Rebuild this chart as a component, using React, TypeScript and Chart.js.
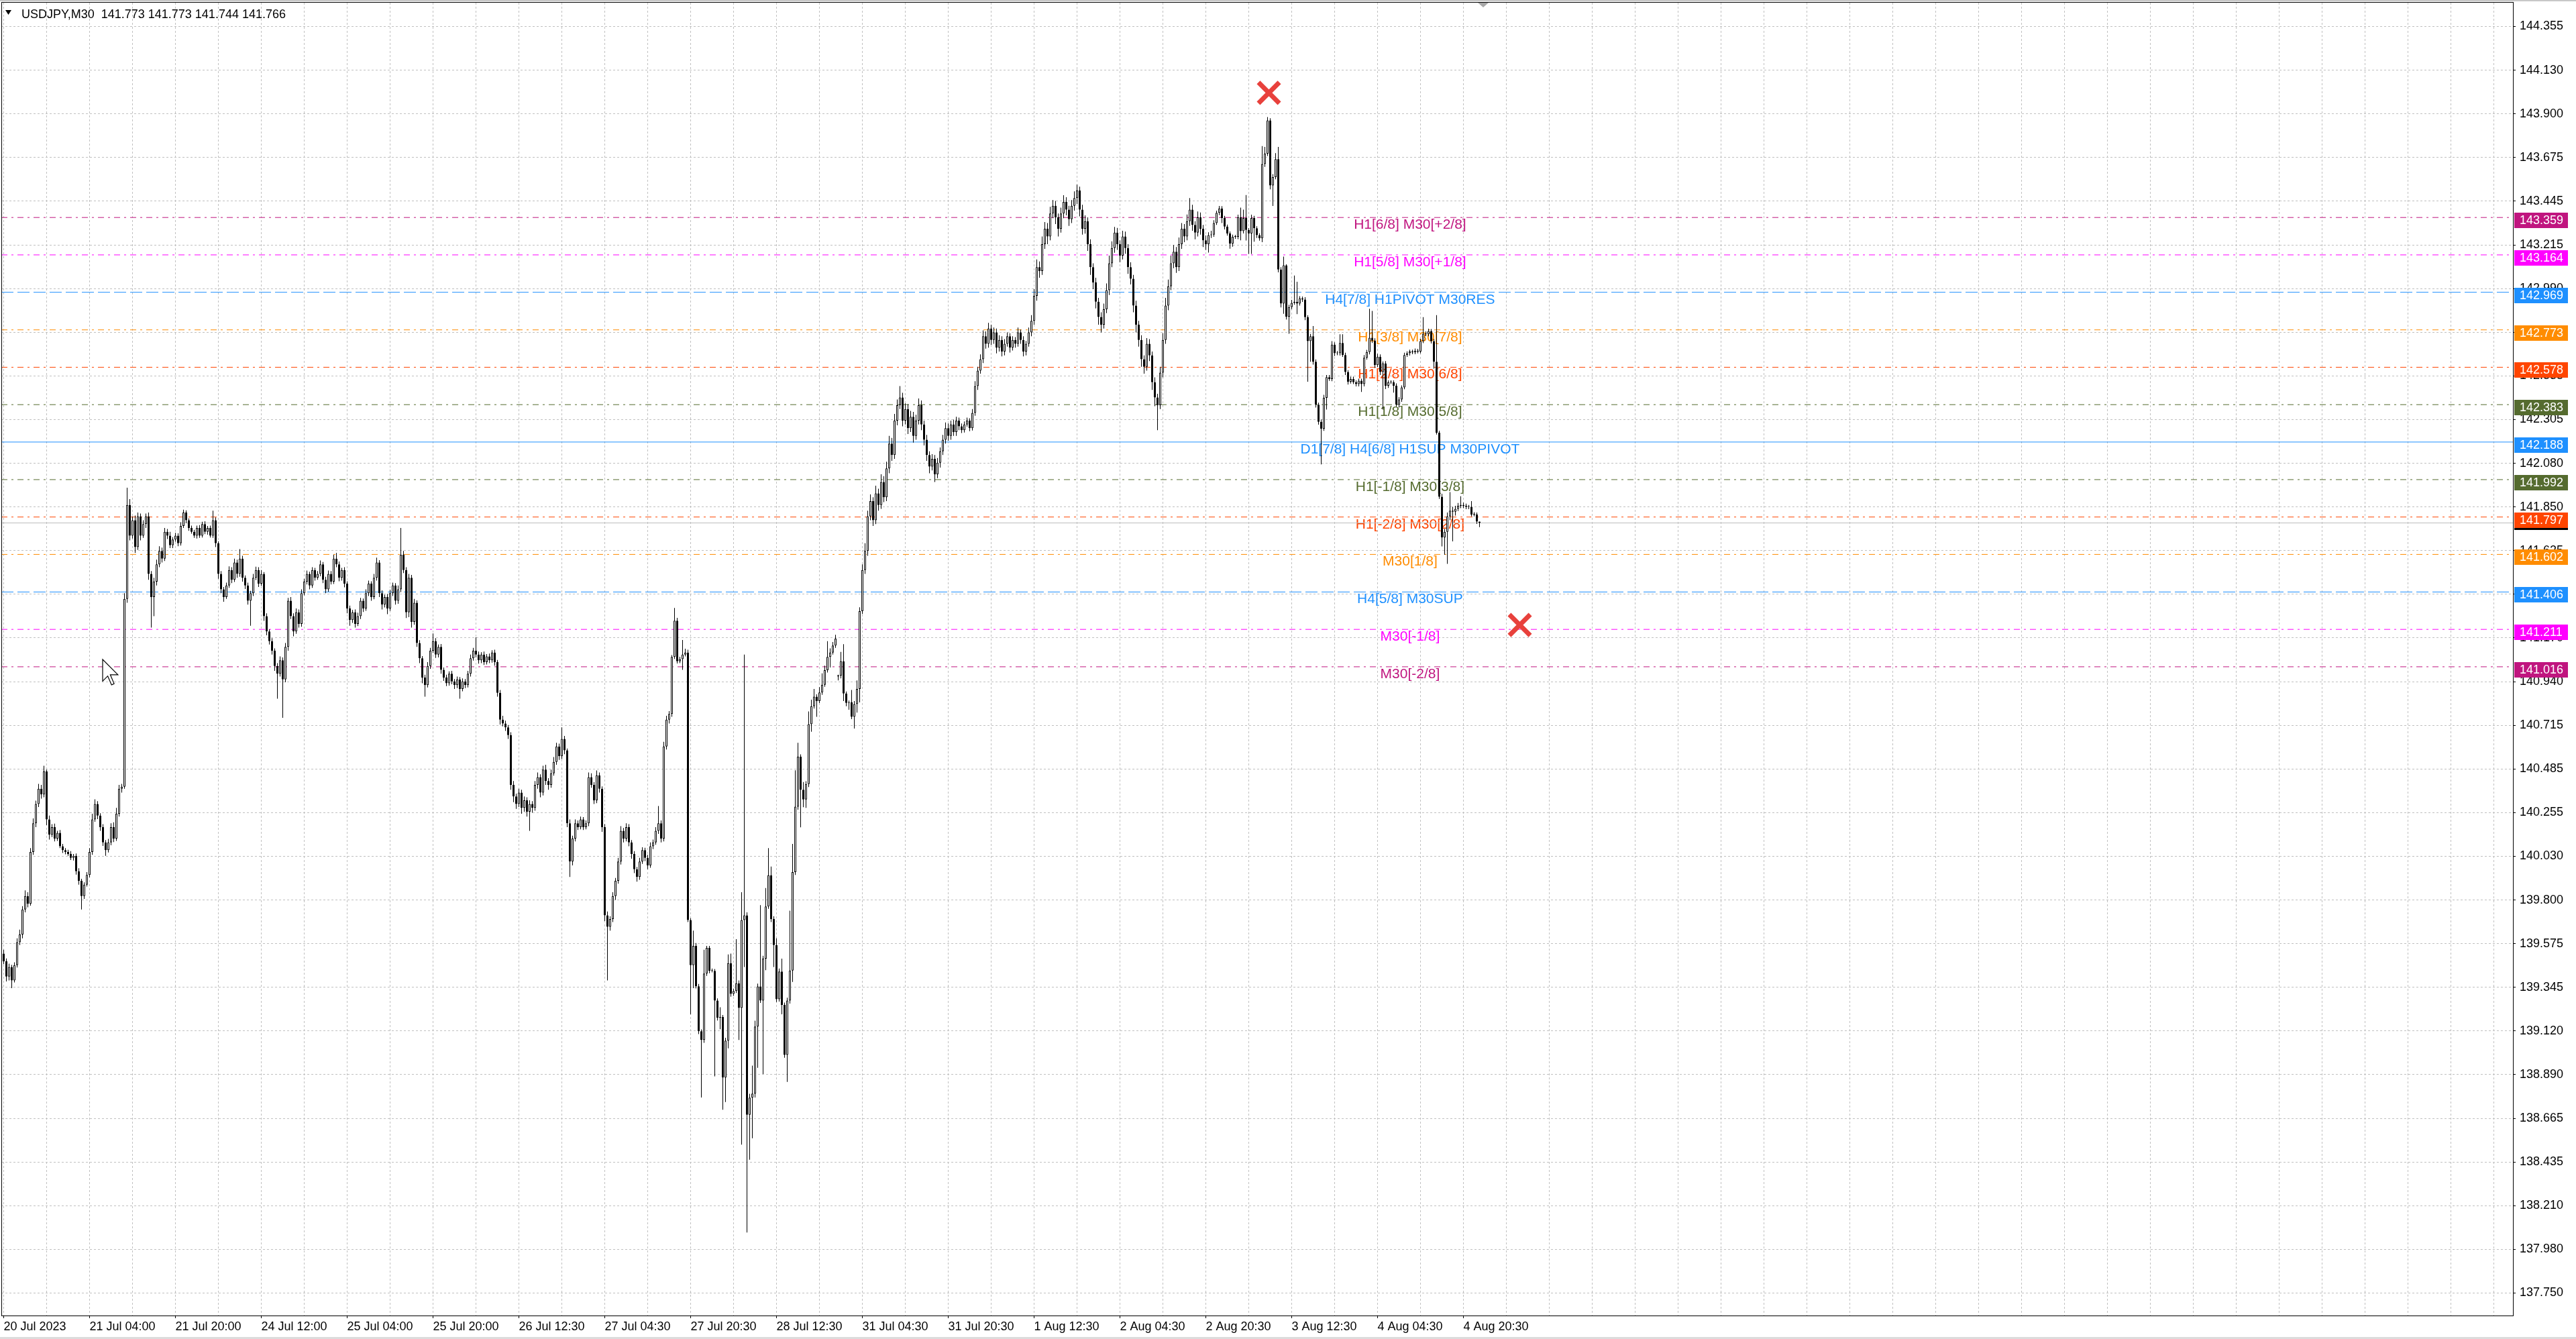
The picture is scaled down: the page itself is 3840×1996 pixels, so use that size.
import { useEffect, useRef } from "react";
import { Chart, registerables } from "chart.js";

Chart.register(...registerables);

const FONT = '"Liberation Sans", Arial, sans-serif';

// ---- M30 candles: [close, upper wick (points), lower wick (points)], open = previous close ----
const FIRST_OPEN = 139.52;

const jul20 = [
  [139.48,20,15],[139.40,15,25],[139.45,18,20],[139.38,12,40],[139.46,15,10],[139.58,20,12],[139.62,25,15],[139.75,18,20],
  [139.82,30,15],[139.78,20,18],[140.05,20,10],[140.20,25,15],[140.30,18,20],[140.38,25,15],[140.35,20,22],[140.47,30,15],
  [140.22,10,30],[140.14,20,25],[140.18,15,12],[140.12,18,15],[140.15,10,12],[140.08,15,10],[140.06,12,15],[140.05,10,12],
];
const jul21 = [
  [140.04,12,10],[140.02,15,12],[140.03,10,14],[139.95,12,18],[139.90,15,20],[139.82,10,70],[139.88,12,15],[139.93,15,10],
  [140.05,20,12],[140.22,30,15],[140.30,25,12],[140.24,15,18],[140.18,12,20],[140.10,15,18],[140.06,12,30],[140.10,18,12],
  [140.18,20,15],[140.12,25,18],[140.25,30,12],[140.38,20,15],[140.39,15,20],[141.37,30,10],[141.86,90,20],[141.70,30,25],
  [141.78,20,15],[141.64,25,30],[141.80,20,15],[141.70,15,25],[141.76,20,12],[141.80,15,20],[141.50,20,30],[141.38,15,160],
  [141.46,20,100],[141.55,25,20],[141.62,25,15],[141.58,18,20],[141.72,20,12],[141.70,15,18],[141.65,20,15],[141.68,12,15],
  [141.70,15,12],[141.66,12,15],[141.75,20,12],[141.82,15,10],[141.78,12,15],[141.74,10,15],[141.72,12,10],[141.70,10,12],
];
const jul24 = [
  [141.74,12,15],[141.70,15,12],[141.76,12,10],[141.72,15,12],[141.74,10,15],[141.70,12,10],[141.78,50,12],[141.66,15,20],
  [141.50,10,25],[141.42,15,20],[141.38,12,25],[141.44,15,10],[141.52,20,12],[141.47,15,18],[141.56,20,12],[141.50,15,20],
  [141.58,50,15],[141.48,15,20],[141.44,12,18],[141.36,15,20],[141.40,12,130],[141.48,20,15],[141.52,18,12],[141.45,15,18],
  [141.50,20,12],[141.28,10,25],[141.20,15,20],[141.15,12,18],[141.10,15,20],[141.02,12,25],[140.98,15,130],[141.05,20,15],
  [140.95,15,200],[141.12,20,15],[141.36,15,20],[141.28,20,15],[141.20,15,25],[141.30,20,12],[141.24,15,20],[141.40,20,15],
  [141.46,15,12],[141.50,18,15],[141.44,12,20],[141.52,15,12],[141.48,12,15],[141.50,15,10],[141.55,20,12],[141.47,12,18],
];
const jul25 = [
  [141.42,15,20],[141.50,18,12],[141.46,15,15],[141.58,20,12],[141.55,30,15],[141.48,15,18],[141.52,12,15],[141.45,15,20],
  [141.32,12,25],[141.26,15,30],[141.30,12,15],[141.24,15,20],[141.28,18,12],[141.36,15,15],[141.32,12,18],[141.40,20,12],
  [141.45,15,15],[141.38,12,20],[141.48,20,12],[141.56,25,15],[141.40,12,20],[141.34,15,25],[141.38,12,15],[141.32,15,30],
  [141.40,18,12],[141.44,15,15],[141.36,12,20],[141.42,20,15],[141.60,140,15],[141.52,20,15],[141.30,15,30],[141.48,20,25],
  [141.25,15,30],[141.35,20,15],[141.14,12,20],[141.06,15,25],[140.96,12,30],[140.92,15,60],[141.02,20,12],[141.10,15,15],
  [141.15,40,12],[141.08,15,18],[141.12,12,15],[141.00,15,20],[140.96,12,18],[140.93,15,15],[140.98,12,12],[140.94,15,15],
];
const jul26 = [
  [140.92,12,20],[140.95,15,15],[140.90,12,50],[140.94,15,12],[140.92,12,15],[140.98,15,12],[141.06,20,15],[141.10,15,12],
  [141.08,70,15],[141.05,15,18],[141.08,12,15],[141.04,15,15],[141.07,12,12],[141.05,15,15],[141.09,12,12],[141.04,15,18],
  [140.88,12,20],[140.74,15,25],[140.72,20,15],[140.70,15,18],[140.66,12,20],[140.40,15,25],[140.34,20,30],[140.30,15,25],
  [140.36,20,15],[140.28,15,30],[140.32,20,20],[140.26,15,25],[140.30,20,100],[140.28,15,25],[140.40,20,15],[140.44,25,20],
  [140.36,15,25],[140.48,20,15],[140.42,25,20],[140.40,15,25],[140.46,20,15],[140.52,25,12],[140.60,20,15],[140.55,15,20],
  [140.64,60,15],[140.58,15,20],[140.20,10,20],[140.00,20,80],[140.12,15,20],[140.20,20,15],[140.18,15,15],
];
const jul27 = [
  [140.22,15,12],[140.18,12,15],[140.20,15,12],[140.44,25,15],[140.40,20,15],[140.32,15,20],[140.45,25,15],[140.38,15,20],
  [140.18,12,25],[139.72,15,30],[139.66,20,280],[139.70,15,20],[139.82,20,15],[139.90,15,20],[140.00,20,15],[140.16,25,15],
  [140.12,15,20],[140.18,20,15],[140.10,15,20],[140.04,12,25],[139.96,15,20],[139.92,12,25],[140.00,20,15],[140.06,15,12],
  [140.02,12,18],[139.98,15,20],[140.08,20,12],[140.10,15,15],[140.16,20,12],[140.20,90,15],[140.12,15,20],[140.60,25,15],
  [140.74,20,15],[140.77,15,20],[141.067,10,15],[141.256,67,10],[141.045,15,12],[141.056,12,10],[141.08,76,56],[141.09,20,10],
  [139.695,15,10],[139.46,10,256],[139.56,80,120],[139.35,15,12],[139.115,12,15],[139.07,10,300],[139.416,124,15],[139.55,10,12],
];
const jul28 = [
  [139.43,10,12],[139.43,12,8],[139.275,10,395],[139.186,12,15],[139.19,50,60],[138.874,10,168],[139.066,15,128],[139.47,46,40],
  [139.31,50,15],[139.325,12,10],[139.365,230,10],[139.237,15,167],[139.695,145,713],[139.72,1360,245],[138.68,15,614],[138.769,20,235],
  [138.79,146,212],[139.14,30,20],[139.349,15,215],[139.275,424,12],[139.494,15,383],[139.766,96,60],[139.929,141,12],[139.70,45,15],
  [139.565,15,115],[139.282,35,15],[139.427,15,12],[139.253,67,49],[138.992,12,15],[139.275,15,141],[139.432,312,15],[139.945,147,60],
  [140.286,190,15],[140.547,73,15],[140.375,12,196],[140.324,40,40],[140.404,15,44],[140.717,66,15],[140.81,34,40],[140.86,40,12],
  [140.837,12,82],[140.882,28,10],[140.922,60,12],[140.998,24,10],[141.067,83,12],[141.09,22,55],[141.127,18,10],[141.163,20,12],
];
const jul31 = [
  [140.97,5,21],[141.045,49,15],[140.877,89,40],[140.828,10,18],[140.83,10,36],[140.755,65,12],[140.822,15,61],[140.90,45,45],
  [141.306,20,70],[141.52,30,15],[141.62,40,20],[141.80,30,25],[141.88,35,20],[141.78,20,30],[141.92,40,20],[141.86,25,30],
  [141.98,40,20],[141.90,30,25],[142.05,35,20],[142.18,40,25],[142.12,30,30],[142.30,35,20],[142.38,30,25],[142.42,60,20],
  [142.30,25,30],[142.36,30,20],[142.26,25,30],[142.32,30,20],[142.22,25,35],[142.30,30,20],[142.38,35,20],[142.28,25,30],
  [142.20,20,30],[142.12,25,30],[142.06,20,35],[142.10,25,20],[142.02,20,40],[142.08,25,20],[142.14,20,25],[142.20,25,20],
  [142.26,30,20],[142.22,25,25],[142.28,20,20],[142.24,25,20],[142.30,20,20],[142.27,15,20],[142.25,15,15],[142.28,15,12],
];
const aug01 = [
  [142.30,15,12],[142.26,12,15],[142.34,20,12],[142.48,25,15],[142.56,20,20],[142.62,25,15],[142.74,30,20],[142.70,25,25],
  [142.78,30,20],[142.72,20,25],[142.76,25,20],[142.68,20,30],[142.72,25,20],[142.66,20,25],[142.70,25,20],[142.74,20,15],
  [142.68,15,25],[142.72,20,15],[142.70,15,20],[142.76,25,15],[142.72,15,20],[142.66,20,25],[142.70,15,20],[142.76,25,15],
  [142.82,30,20],[142.95,35,20],[143.10,40,25],[143.08,30,35],[143.22,40,20],[143.30,35,25],[143.26,30,40],[143.38,35,20],
  [143.42,30,25],[143.36,25,35],[143.30,20,40],[143.38,30,20],[143.44,35,25],[143.40,25,30],[143.35,20,35],[143.42,30,20],
  [143.46,35,25],[143.50,30,30],[143.40,20,35],[143.30,25,30],[143.34,30,25],[143.22,20,35],[143.10,25,40],[143.02,20,35],
];
const aug02 = [
  [142.92,25,35],[142.84,20,40],[142.80,25,40],[142.88,30,20],[142.98,35,20],[143.12,40,25],[143.20,35,20],[143.28,30,25],
  [143.22,25,30],[143.16,20,35],[143.26,30,20],[143.20,25,30],[143.10,20,35],[143.04,25,30],[142.90,20,35],[142.80,25,40],
  [142.72,20,35],[142.62,25,40],[142.58,20,35],[142.70,30,20],[142.64,25,30],[142.50,20,40],[142.42,25,45],[142.38,20,130],
  [142.55,30,20],[142.72,35,25],[142.90,40,20],[143.00,35,25],[143.12,40,20],[143.18,35,25],[143.10,25,30],[143.22,35,20],
  [143.30,30,25],[143.26,25,30],[143.34,35,20],[143.40,60,25],[143.32,25,30],[143.28,20,35],[143.36,30,20],[143.30,25,30],
  [143.24,20,35],[143.22,25,30],[143.267,15,44],[143.27,20,15],[143.33,15,12],[143.383,12,10],[143.406,13,12],[143.356,12,26],
];
const aug03 = [
  [143.312,12,15],[143.276,10,12],[143.222,10,26],[143.258,12,15],[143.258,10,10],[143.36,14,12],[143.288,50,48],[143.356,44,12],
  [143.294,120,55],[143.276,10,107],[143.356,18,107],[143.303,12,70],[143.267,10,15],[143.25,10,12],[143.638,93,20],[143.692,35,15],
  [143.865,18,12],[143.526,12,20],[143.57,15,107],[143.663,32,12],[143.088,64,15],[142.91,12,20],[143.11,45,53],[142.842,5,15],
  [142.892,12,89],[142.914,15,12],[142.919,137,10],[142.91,105,55],[142.937,12,10],[142.931,10,12],[142.839,12,15],[142.714,10,211],
  [142.74,12,107],[142.607,53,15],[142.383,12,15],[142.294,10,15],[142.258,12,187],[142.419,15,12],[142.526,12,62],[142.517,12,10],
  [142.696,18,12],[142.651,12,15],[142.651,12,10],[142.705,45,12],[142.642,45,10],[142.553,12,15],[142.503,10,15],[142.517,12,10],
];
const aug04 = [
  [142.50,12,10],[142.49,10,12],[142.508,10,12],[142.49,10,41],[142.628,14,12],[142.657,12,10],[142.732,151,12],[142.717,140,12],
  [142.589,12,15],[142.633,15,10],[142.553,12,15],[142.598,10,196],[142.482,12,18],[142.50,10,12],[142.50,10,10],[142.482,10,36],
  [142.383,12,10],[142.41,12,15],[142.473,10,12],[142.642,12,10],[142.651,10,10],[142.66,10,12],[142.656,10,10],[142.664,12,10],
  [142.66,10,10],[142.714,12,10],[142.753,86,10],[142.75,12,10],[142.767,12,10],[142.714,10,12],[142.607,12,36],[142.237,243,10],
  [141.903,10,12],[141.69,15,46],[141.72,15,90],[141.80,20,167],[141.83,97,20],[141.825,20,155],[141.84,15,20],[141.855,15,12],
  [141.86,45,12],[141.855,12,12],[141.85,12,12],[141.85,10,12],[141.81,30,10],[141.81,12,10],[141.773,10,12],[141.766,0,22],
];
// week-open gaps: [bar index, open]
const GAP_OPENS = [[311, 140.966]];

// ---- axes ----
const TIME_LABELS = [
  "20 Jul 2023", "21 Jul 04:00", "21 Jul 20:00", "24 Jul 12:00", "25 Jul 04:00", "25 Jul 20:00",
  "26 Jul 12:30", "27 Jul 04:30", "27 Jul 20:30", "28 Jul 12:30", "31 Jul 04:30", "31 Jul 20:30",
  "1 Aug 12:30", "2 Aug 04:30", "2 Aug 20:30", "3 Aug 12:30", "4 Aug 04:30", "4 Aug 20:30",
];
const PRICE_LABELS = [
  "144.355", "144.130", "143.900", "143.675", "143.445", "143.215", "142.990", "142.760", "142.535", "142.305",
  "142.080", "141.850", "141.625", "141.395", "141.170", "140.940", "140.715", "140.485", "140.255", "140.030",
  "139.800", "139.575", "139.345", "139.120", "138.890", "138.665", "138.435", "138.210", "137.980", "137.750",
];

// ---- Murrey math levels ----
const LEVEL_PRICES = [143.359, 143.164, 142.969, 142.773, 142.578, 142.383, 142.188, 141.992, 141.797, 141.602, 141.406, 141.211, 141.016];
const LEVEL_NAMES = [
  "H1[6/8] M30[+2/8]", "H1[5/8] M30[+1/8]", "H4[7/8] H1PIVOT M30RES", "H1[3/8] M30[7/8]", "H1[2/8] M30[6/8]",
  "H1[1/8] M30[5/8]", "D1[7/8] H4[6/8] H1SUP M30PIVOT", "H1[-1/8] M30[3/8]", "H1[-2/8] M30[2/8]", "M30[1/8]",
  "H4[5/8] M30SUP", "M30[-1/8]", "M30[-2/8]",
];
const LEVEL_COLORS = ["#C0157F", "#FF00FF", "#1E90FF", "#FF8C00", "#FF4500", "#556B2F", "#1E90FF", "#556B2F", "#FF4500", "#FF8C00", "#1E90FF", "#FF00FF", "#C0157F"];
const LEVEL_STYLES = ["dashdot", "dashdot", "dash", "dashdot", "dashdot", "dashdot", "solid", "dashdot", "dashdot", "dashdot", "dash", "dashdot", "dashdot"];

const BID = 141.766;
const SIGNAL_BARS = [471.5, 565];
const SIGNAL_PRICES = [144.009, 141.234];
const HEADER = "USDJPY,M30  141.773 141.773 141.744 141.766";

const X_MIN = -0.875;
const X_MAX = 935.125;
const Y_MAX = 144.4792;
const Y_MIN = 137.6328;
const LEVEL_LABEL_BAR = 524.1;
const DASHES: Record<string, number[]> = { solid: [], dash: [18, 6], dashdot: [9, 6, 3, 6] };

function buildBars() {
  const days = [jul20, jul21, jul24, jul25, jul26, jul27, jul28, jul31, aug01, aug02, aug03, aug04];
  const out: { o: number; h: number; l: number; c: number }[] = [];
  let prev = FIRST_OPEN;
  for (const day of days) {
    for (const [c, up, dn] of day) {
      const g = GAP_OPENS.find((e) => e[0] === out.length);
      const o = g ? g[1] : prev;
      out.push({ o, c, h: Math.max(o, c) + up / 1000, l: Math.min(o, c) - dn / 1000 });
      prev = c;
    }
  }
  return out;
}

export default function App() {
  const canvasRef = useRef<HTMLCanvasElement | null>(null);

  useEffect(() => {
    const canvas = canvasRef.current;
    if (!canvas) return;
    Chart.defaults.font.family = FONT;
    const bars = buildBars();
    const wickData = bars.map((b, i) => ({ x: i, y: [b.l, b.h] }));
    const bodyData = bars.map((b, i) => ({ x: i, y: [Math.min(b.o, b.c), Math.max(b.o, b.c)] }));
    const bodyFill = bars.map((b) => (b.c > b.o ? "#ffffff" : "#000000"));

    const nT = PRICE_LABELS.length;
    const pFirst = parseFloat(PRICE_LABELS[0]);
    const pLast = parseFloat(PRICE_LABELS[nT - 1]);
    const tickVals = PRICE_LABELS.map((_, k) => pFirst + ((pLast - pFirst) * k) / (nT - 1));
    const gridBars: number[] = [];
    for (let v = 0; v <= X_MAX; v += 16) gridBars.push(v);
    const timeLabelAt = (v: number) => {
      const k = v / 32;
      return Number.isInteger(k) && k < TIME_LABELS.length ? TIME_LABELS[k] : "";
    };

    const levelSets = LEVEL_PRICES.map((p, k) => ({
      type: "line" as const,
      data: [{ x: X_MIN, y: p }, { x: X_MAX, y: p }],
      borderColor: LEVEL_COLORS[k],
      borderWidth: 1,
      borderDash: DASHES[LEVEL_STYLES[k]],
      pointRadius: 0,
      tension: 0,
      order: 6,
    }));

    const overlay = {
      id: "mt4Overlay",
      beforeDatasetsDraw(chart: any) {
        const { ctx, scales } = chart;
        const cx = scales.x.getPixelForValue(LEVEL_LABEL_BAR);
        ctx.save();
        ctx.font = `21px ${FONT}`;
        ctx.textAlign = "center";
        ctx.textBaseline = "alphabetic";
        LEVEL_PRICES.forEach((p, k) => {
          const py = Math.round(scales.y.getPixelForValue(p));
          ctx.fillStyle = LEVEL_COLORS[k];
          ctx.fillText(LEVEL_NAMES[k], cx, py + 17);
        });
        ctx.restore();
      },
      afterDraw(chart: any) {
        const { ctx, scales, chartArea } = chart;
        const W = chart.width;
        ctx.save();
        ctx.fillStyle = "#C8C8C8";
        ctx.fillRect(0, 0, W, 2);
        ctx.fillStyle = "#DCDCDC";
        ctx.fillRect(0, 1993, W, 3);
        ctx.fillStyle = "#000";
        ctx.fillRect(2, 3, 1, chartArea.bottom - 3);
        ctx.fillRect(2, 3, chartArea.right - 2, 1);
        ctx.fillRect(chartArea.right, 3, 1, chartArea.bottom - 2);
        ctx.fillRect(2, chartArea.bottom, chartArea.right - 1, 1);
        ctx.fillStyle = "#A8A8A8";
        ctx.beginPath();
        ctx.moveTo(2203, 4);
        ctx.lineTo(2219, 4);
        ctx.lineTo(2211, 11);
        ctx.closePath();
        ctx.fill();
        const tagX = chartArea.right + 2;
        const by = Math.round(scales.y.getPixelForValue(BID));
        ctx.fillStyle = "#000";
        ctx.fillRect(tagX, by - 13, 80, 23);
        ctx.font = `18px ${FONT}`;
        ctx.textBaseline = "middle";
        ctx.textAlign = "left";
        LEVEL_PRICES.forEach((p, k) => {
          const py = Math.round(scales.y.getPixelForValue(p));
          ctx.fillStyle = LEVEL_COLORS[k];
          ctx.fillRect(tagX, py - 7, 80, 23);
          ctx.fillStyle = "#fff";
          ctx.fillText(p.toFixed(3), chartArea.right + 10, py + 5);
        });
        ctx.fillStyle = "#000";
        ctx.beginPath();
        ctx.moveTo(8, 15);
        ctx.lineTo(17, 15);
        ctx.lineTo(12.5, 22);
        ctx.closePath();
        ctx.fill();
        ctx.font = `18px ${FONT}`;
        ctx.textBaseline = "alphabetic";
        ctx.fillText(HEADER, 32, 27);
        const cur = [[0, 0], [0, 17], [4, 13], [7, 20], [9, 19], [6, 12], [12, 12]];
        ctx.beginPath();
        cur.forEach(([a, b], i) => {
          const px = 153 + a * 1.9;
          const py = 983 + b * 1.9;
          if (i === 0) ctx.moveTo(px, py);
          else ctx.lineTo(px, py);
        });
        ctx.closePath();
        ctx.fillStyle = "#fff";
        ctx.fill();
        ctx.strokeStyle = "#000";
        ctx.lineWidth = 1.2;
        ctx.stroke();
        ctx.restore();
      },
    };

    const chart = new Chart(canvas, {
      type: "bar",
      data: {
        datasets: [
          {
            type: "line",
            data: SIGNAL_BARS.map((b, k) => ({ x: b, y: SIGNAL_PRICES[k] })),
            showLine: false,
            pointStyle: "crossRot",
            pointRadius: 22,
            pointHoverRadius: 22,
            pointBorderWidth: 7,
            pointBorderColor: "#E8413C",
            pointBackgroundColor: "#E8413C",
            order: 0,
          } as any,
          {
            type: "bar",
            data: bodyData as any,
            backgroundColor: bodyFill,
            borderColor: "#000",
            borderWidth: 1,
            barThickness: 3,
            grouped: false,
            borderSkipped: false,
            inflateAmount: 0,
            minBarLength: 1,
            order: 1,
          } as any,
          {
            type: "bar",
            data: wickData as any,
            backgroundColor: "#000",
            borderWidth: 0,
            barThickness: 1,
            grouped: false,
            borderSkipped: false,
            inflateAmount: 0,
            minBarLength: 1,
            order: 2,
          } as any,
          {
            type: "line",
            data: [{ x: X_MIN, y: BID }, { x: X_MAX, y: BID }],
            borderColor: "#BDBDBD",
            borderWidth: 1,
            pointRadius: 0,
            order: 5,
          } as any,
          ...(levelSets as any[]),
        ],
      },
      options: {
        responsive: false,
        animation: false,
        events: [],
        layout: { autoPadding: false, padding: { left: 2, top: 4, right: 0, bottom: 0 } },
        plugins: { legend: { display: false }, tooltip: { enabled: false } },
        scales: {
          x: {
            type: "linear",
            min: X_MIN,
            max: X_MAX,
            offset: false,
            afterFit: (s: any) => { s.height = 35; s.paddingLeft = 0; s.paddingRight = 0; },
            afterBuildTicks: (s: any) => { s.ticks = gridBars.map((v) => ({ value: v })); },
            ticks: {
              autoSkip: false,
              maxRotation: 0,
              minRotation: 0,
              align: "start",
              padding: 2,
              color: "#000",
              font: { family: FONT, size: 18 },
              callback: (v: any) => timeLabelAt(Number(v)),
            },
            grid: {
              color: "#C0C0C0",
              lineWidth: 1,
              offset: false,
              drawTicks: true,
              tickLength: 4,
              tickColor: (c: any) => (c.tick && timeLabelAt(c.tick.value) ? "#000" : "rgba(0,0,0,0)"),
            },
            border: { display: false, dash: [3, 3] },
          },
          y: {
            type: "linear",
            position: "right",
            min: Y_MIN,
            max: Y_MAX,
            afterFit: (s: any) => { s.width = 94; s.paddingTop = 0; s.paddingBottom = 0; },
            afterBuildTicks: (s: any) => { s.ticks = tickVals.map((v) => ({ value: v })); },
            ticks: {
              autoSkip: false,
              padding: 6,
              color: "#000",
              font: { family: FONT, size: 18 },
              callback: (_v: any, i: number) => PRICE_LABELS[i],
            },
            grid: { color: "#C0C0C0", lineWidth: 1, drawTicks: true, tickLength: 4, tickColor: "#000" },
            border: { display: false, dash: [3, 3] },
          },
        },
      } as any,
      plugins: [overlay],
    });
    return () => chart.destroy();
  }, []);

  return (
    <div style={{ position: "fixed", left: 0, top: 0, width: 3840, height: 1996, background: "#fff" }}>
      <canvas ref={canvasRef} width={3840} height={1996} style={{ display: "block", width: 3840, height: 1996 }} />
    </div>
  );
}
